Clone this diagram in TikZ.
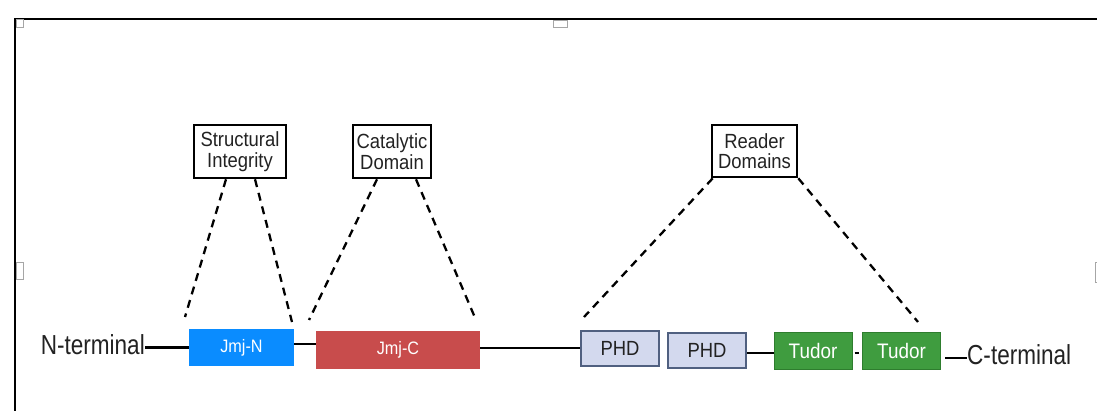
\documentclass[tikz,border=0pt]{standalone}
\usepackage{fontspec}
\setmainfont{Liberation Sans}[FakeStretch=0.9]
\newfontfamily\termfont{Liberation Sans}[FakeStretch=0.82]
\definecolor{jmjn}{RGB}{10,140,255}
\definecolor{jmjc}{RGB}{200,76,76}
\definecolor{phdfill}{RGB}{211,217,238}
\definecolor{phddraw}{RGB}{80,96,128}
\definecolor{tudfill}{RGB}{63,156,63}
\definecolor{tuddraw}{RGB}{46,125,46}
\definecolor{txt}{RGB}{34,34,34}
\begin{document}
\begin{tikzpicture}[x=1pt,y=-1pt,
  dombox/.style={rectangle,inner sep=0pt,text=white,font=\fontsize{18}{20}\selectfont},
  phdbox/.style={rectangle,inner sep=0pt,fill=phdfill,draw=phddraw,line width=1.5pt,text=txt,
     minimum width=78pt,minimum height=35pt,font=\fontsize{20.5}{22}\selectfont},
  tudbox/.style={rectangle,inner sep=0pt,fill=tudfill,draw=tuddraw,line width=1pt,text=white,
     minimum width=78pt,minimum height=36pt,font=\fontsize{21}{23}\selectfont},
  lblbox/.style={rectangle,draw=black,line width=2.6pt,inner sep=0pt,align=center,text=txt,
     minimum height=53pt,font=\fontsize{20.5}{20.5}\selectfont},
  termtxt/.style={inner sep=0pt,text=txt,font=\termfont\fontsize{27.5}{30}\selectfont},
  chainline/.style={line width=2.4pt,black},
  dashline/.style={line width=2.3pt,dash pattern=on 8pt off 6pt},
  handlebox/.style={fill=white,draw=gray!70,line width=1pt}]
\useasboundingbox (0,0) rectangle (1097,411);
% frame of the selected picture
\draw[line width=2.8pt] (14,19) -- (1097,19);
\draw[line width=2.8pt] (15,19) -- (15,411);
\draw[handlebox] (16,20) rectangle (23,28);
\draw[handlebox] (553,20.5) rectangle (567,28);
\draw[handlebox] (16,263) rectangle (23,280);
\draw[handlebox] (1095,263) rectangle (1099,283);
% domains
\node[dombox,fill=jmjn,minimum width=105pt,minimum height=37pt] (jn) at (241.5,347.5) {Jmj-N};
\node[dombox,fill=jmjc,minimum width=164pt,minimum height=38pt] (jc) at (398,350) {Jmj-C};
\node[phdbox] (p1) at (620,348.5) {PHD};
\node[phdbox] (p2) at (707,350.5) {PHD};
\node[tudbox] (t1) at (813,351) {Tudor};
\node[tudbox] (t2) at (901.5,351) {Tudor};
% terminals
\node[termtxt,anchor=base east] (nt) at (145,355) {N-terminal};
\node[termtxt,anchor=base west] (ct) at (967,364.5) {C-terminal};
% labels
\node[lblbox,minimum width=92pt] (si) at (240,151.5) {Structural\\Integrity};
\node[lblbox,minimum width=78pt] (cd) at (392,151.5) {Catalytic\\Domain};
\node[lblbox,minimum width=85pt,minimum height=52pt] (rd) at (754.5,151) {Reader\\Domains};
% chain
\draw[chainline] (nt.east |- jn.west) -- (jn.west);
\draw[chainline] ([yshift=3.5pt]jn.east) -- ([yshift=6pt]jc.west);
\draw[chainline] ([yshift=2pt]jc.east) -- ([yshift=0.5pt]p1.west);
\draw[chainline] ([yshift=-2.5pt]p2.east) -- ([yshift=-2pt]t1.west);
\draw[chainline,shorten <=2pt,shorten >=3pt] ([yshift=-2pt]t1.east) -- ([yshift=-2pt]t2.west);
\coordinate (cl) at (945,358);
\draw[chainline] (cl) -- (ct.west |- cl);
% dashed callouts
\coordinate (a1) at (185,317);
\coordinate (a2) at (292,322);
\coordinate (b1) at (309,320);
\coordinate (b2) at (476,320);
\coordinate (c1) at (584,317);
\coordinate (c2) at (918,322);
\draw[dashline] ([xshift=-14pt]si.south) -- (a1);
\draw[dashline] ([xshift=15pt]si.south) -- (a2);
\draw[dashline] ([xshift=-15pt]cd.south) -- (b1);
\draw[dashline] ([xshift=24pt]cd.south) -- (b2);
\draw[dashline] ([xshift=2pt]rd.south west) -- (c1);
\draw[dashline] (rd.south east) -- (c2);
\end{tikzpicture}
\end{document}
